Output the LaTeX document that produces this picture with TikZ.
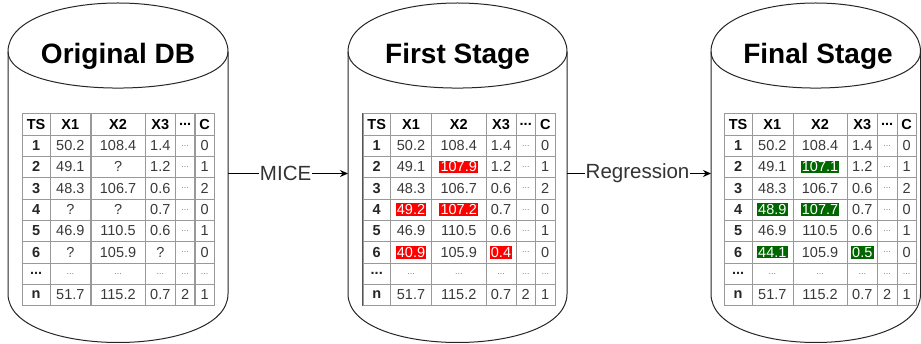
\documentclass[tikz,border=0pt]{standalone}
\usepackage{fontspec}
\setmainfont{Liberation Sans}
\usetikzlibrary{matrix,arrows.meta}
\definecolor{hlred}{HTML}{FF0000}
\definecolor{hlgreen}{HTML}{006600}
\definecolor{tblout}{HTML}{555555}
\definecolor{tblin}{HTML}{999999}
\definecolor{txt}{HTML}{3A3A3A}
\newcommand\cellfont{\fontsize{14.5}{15}\selectfont}
\newcommand\hlr[1]{{\setlength\fboxsep{1.2pt}\colorbox{hlred}{\textcolor{white}{#1}}}}
\newcommand\hlg[1]{{\setlength\fboxsep{1.2pt}\colorbox{hlgreen}{\textcolor{white}{#1}}}}
\newcommand\dd{{\fontsize{9}{9}\selectfont\textcolor{gray}{...}}}
\newcommand\cylpath[2]{% x0, width
  \draw[cyl] (#1,51.6) .. controls (#1,-13.2) and ({#1+#2},-13.2) .. ({#1+#2},51.6)
    -- ({#1+#2},293.9) .. controls ({#1+#2},358.7) and (#1,358.7) .. (#1,293.9) -- cycle;
  \draw[cyl] (#1,51.6) .. controls (#1,100.2) and ({#1+#2},100.2) .. ({#1+#2},51.6);
}
\tikzset{
  cyl/.style={line width=1pt, draw=black!85},
  title/.style={font=\fontsize{28}{30}\selectfont\bfseries, text=black, anchor=base},
  lbl/.style={font=\fontsize{20.5}{22}\selectfont, text=black!80, fill=white, inner sep=1pt},
  arr/.style={line width=1pt, -{Stealth[length=8pt,width=7pt]}},
  tbl/.style={matrix of nodes, inner sep=0pt, outer sep=0pt, draw=tblout, line width=0.9pt,
    anchor=north west, column sep=-0.6pt, row sep=-0.6pt,
    nodes={draw=tblin, line width=0.6pt, minimum height=21.33pt, inner sep=0pt, outer sep=0pt,
      anchor=center, font=\cellfont, text=txt},
    column 1/.style={nodes={minimum width=27.5pt, font=\cellfont\bfseries, text=black!85}},
    column 2/.style={nodes={minimum width=41pt}},
    column 3/.style={nodes={minimum width=54.5pt}},
    column 4/.style={nodes={minimum width=30pt}},
    column 5/.style={nodes={minimum width=19.5pt}},
    column 6/.style={nodes={minimum width=19.5pt}},
    row 1/.style={nodes={font=\cellfont\bfseries, text=black}}},
}
\begin{document}
\begin{tikzpicture}[x=1pt,y=-1pt]
\useasboundingbox (0,0) rectangle (921,344);
\fill[white] (0,0) rectangle (921,344);
% cylinders
\cylpath{8}{220}
\cylpath{348}{219}
\cylpath{711}{209.5}
\node[title] (h1) at (118,64) {Original DB};
\node[title] (h2) at (457.5,64) {First Stage};
\node[title] (h3) at (818,64) {Final Stage};
% tables
\matrix[tbl] (t1) at (22,113.3) {
TS & X1 & X2 & X3 & ... & C \\
1 & 50.2 & 108.4 & 1.4 & \dd & 0 \\
2 & 49.1 & ? & 1.2 & \dd & 1 \\
3 & 48.3 & 106.7 & 0.6 & \dd & 2 \\
4 & ? & ? & 0.7 & \dd & 0 \\
5 & 46.9 & 110.5 & 0.6 & \dd & 1 \\
6 & ? & 105.9 & ? & \dd & 0 \\
... & \dd & \dd & \dd & \dd & \dd \\
n & 51.7 & 115.2 & 0.7 & 2 & 1 \\
};
\matrix[tbl] (t2) at (362.7,113.3) {
TS & X1 & X2 & X3 & ... & C \\
1 & 50.2 & 108.4 & 1.4 & \dd & 0 \\
2 & 49.1 & \hlr{107.9} & 1.2 & \dd & 1 \\
3 & 48.3 & 106.7 & 0.6 & \dd & 2 \\
4 & \hlr{49.2} & \hlr{107.2} & 0.7 & \dd & 0 \\
5 & 46.9 & 110.5 & 0.6 & \dd & 1 \\
6 & \hlr{40.9} & 105.9 & \hlr{0.4} & \dd & 0 \\
... & \dd & \dd & \dd & \dd & \dd \\
n & 51.7 & 115.2 & 0.7 & 2 & 1 \\
};
\matrix[tbl] (t3) at (724,113.3) {
TS & X1 & X2 & X3 & ... & C \\
1 & 50.2 & 108.4 & 1.4 & \dd & 0 \\
2 & 49.1 & \hlg{107.1} & 1.2 & \dd & 1 \\
3 & 48.3 & 106.7 & 0.6 & \dd & 2 \\
4 & \hlg{48.9} & \hlg{107.7} & 0.7 & \dd & 0 \\
5 & 46.9 & 110.5 & 0.6 & \dd & 1 \\
6 & \hlg{44.1} & 105.9 & \hlg{0.5} & \dd & 0 \\
... & \dd & \dd & \dd & \dd & \dd \\
n & 51.7 & 115.2 & 0.7 & 2 & 1 \\
};
% connectors
\coordinate (c1r) at (228,173.5);
\coordinate (c2l) at (348,173.5);
\coordinate (c2r) at (567,173.5);
\coordinate (c3l) at (711,173.5);
\draw[arr] (c1r) -- (c2l) node[lbl, pos=0.48] (m) {MICE};
\draw[arr] (c2r) -- (c3l) node[lbl, pos=0.49] (r) {Regression};
\end{tikzpicture}
\end{document}
